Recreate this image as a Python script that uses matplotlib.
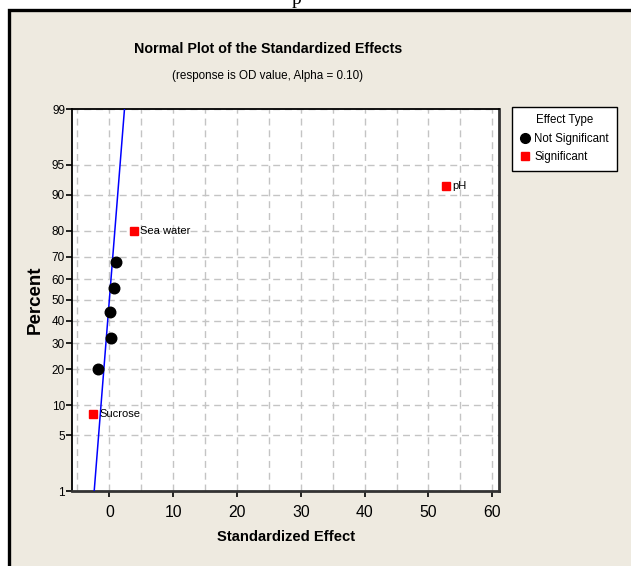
"""
Normal probability plot of standardized effects (two-level factorial, OD value response).
"""

from statistics import NormalDist

import numpy as np
import matplotlib
matplotlib.use("Agg")
import matplotlib.pyplot as plt
from matplotlib.lines import Line2D
from matplotlib.patches import Rectangle

# effects, plotted against their normal-score percentiles
effect_names = ["Sucrose", "", "", "", "", "", "Sea water", "pH"]
effect_values = [-2.6, -1.8, 0.2, 0.15, 0.8, 1.1, 3.8, 52.7]
effect_percent = [8.3, 20.2, 32.1, 44.0, 55.9, 67.9, 79.8, 91.7]
significant = [True, False, False, False, False, False, True, True]

# reference line: mean 0, scale = pseudo standard error
line_mean = 0.0
line_sigma = 1.02

x_ticks = [0, 10, 20, 30, 40, 50, 60]
y_ticks = [1, 5, 10, 20, 30, 40, 50, 60, 70, 80, 90, 95, 99]

BG = "#eeeae0"
SANS = ["Liberation Sans", "DejaVu Sans"]

_nd = NormalDist()
_ppf = np.vectorize(_nd.inv_cdf, otypes=[float])
_cdf = np.vectorize(_nd.cdf, otypes=[float])


def _to_z(p):
    p = np.clip(np.asarray(p, dtype=float) / 100.0, 1e-9, 1 - 1e-9)
    return _ppf(p)


def _from_z(z):
    return _cdf(np.asarray(z, dtype=float)) * 100.0


fig = plt.figure(figsize=(6.31, 5.66), dpi=100)
fig.patch.set_facecolor("white")

# graph window panel
fig.patches.append(Rectangle((9 / 631, -0.1), 1.2, 1.1 - 10 / 566,
                             transform=fig.transFigure, facecolor=BG,
                             edgecolor="black", linewidth=2.4, zorder=-10))
fig.text(297 / 631, 1.0, "p", family="Liberation Serif", fontsize=14,
         ha="center", va="center", color="black")

ax = fig.add_axes([72 / 631, 75 / 566, 427 / 631, 382 / 566])
ax.set_facecolor("white")
ax.set_yscale("function", functions=(_to_z, _from_z))
ax.set_xlim(-5.85, 61.05)
ax.set_ylim(1, 99)

# fitted line
z_line = np.linspace(float(_to_z(1)), float(_to_z(99)), 50)
ax.plot(line_mean + line_sigma * z_line, _from_z(z_line), color="#0000ff",
        linewidth=1.1, zorder=3)

for name, x, p, sig in zip(effect_names, effect_values, effect_percent, significant):
    if sig:
        ax.plot(x, p, "s", color="#ff0000", markersize=6.2, zorder=4)
        ax.text(x + 1.0, p, name, family=SANS, fontsize=8,
                ha="left", va="center")
    else:
        ax.plot(x, p, "o", color="black", markersize=7.6, zorder=4)

ax.set_xticks(x_ticks)
ax.set_xticks(np.arange(-5, 61, 5), minor=True)
ax.set_yticks(y_ticks)
ax.set_yticklabels([str(t) for t in y_ticks])
ax.yaxis.set_minor_locator(matplotlib.ticker.NullLocator())
ax.grid(True, which="both", axis="x", linestyle=(0, (5, 3.5)),
        color="#c4c4c4", linewidth=1)
ax.grid(True, which="major", axis="y", linestyle=(0, (5, 3.5)),
        color="#c4c4c4", linewidth=1)
ax.set_axisbelow(True)

ax.tick_params(axis="x", which="major", length=4, width=1.2, pad=6,
               labelsize=11.3, colors="black")
ax.tick_params(axis="x", which="minor", length=0)
ax.tick_params(axis="y", which="major", length=4, width=1.2, pad=1,
               labelsize=8.5, colors="black")
for lab in ax.get_xticklabels() + ax.get_yticklabels():
    lab.set_family(SANS)

for spine in ax.spines.values():
    spine.set_linewidth(1.3)
    spine.set_color("black")
ax.spines["bottom"].set_color("#333333")
ax.spines["bottom"].set_linewidth(2)
ax.spines["right"].set_color("#333333")
ax.spines["right"].set_linewidth(2)

fig.text(35 / 631, 1 - 300 / 566, "Percent", rotation=90, ha="center",
         va="center", fontsize=13.5, fontweight="bold", family=SANS)
fig.text(286 / 631, 1 - 537 / 566, "Standardized Effect", ha="center",
         va="center", fontsize=10.6, fontweight="bold", family=SANS)

fig.text(268 / 631, 1 - 49 / 566, "Normal Plot of the Standardized Effects",
         ha="center", va="center", fontsize=10.3, fontweight="bold",
         family=SANS)
fig.text(268 / 631, 1 - 76 / 566, "(response is OD value, Alpha = 0.10)",
         ha="center", va="center", fontsize=8.4, family=SANS)

handles = [
    Line2D([], [], marker="o", color="black", linestyle="none", markersize=7),
    Line2D([], [], marker="s", color="#ff0000", linestyle="none", markersize=6),
]
leg = fig.legend(handles, ["Not Significant", "Significant"],
                 title="Effect Type", loc="upper left",
                 bbox_to_anchor=(512 / 631, 1 - 107 / 566),
                 prop={"family": SANS, "size": 8.3},
                 title_fontproperties={"family": SANS, "size": 8.3},
                 frameon=True, fancybox=False, framealpha=1,
                 edgecolor="black", borderpad=0.65, handletextpad=0.3,
                 handlelength=1.0, labelspacing=0.55, borderaxespad=0)
leg.get_frame().set_linewidth(1.0)

fig.savefig("out.png", dpi=100, facecolor=fig.get_facecolor())
